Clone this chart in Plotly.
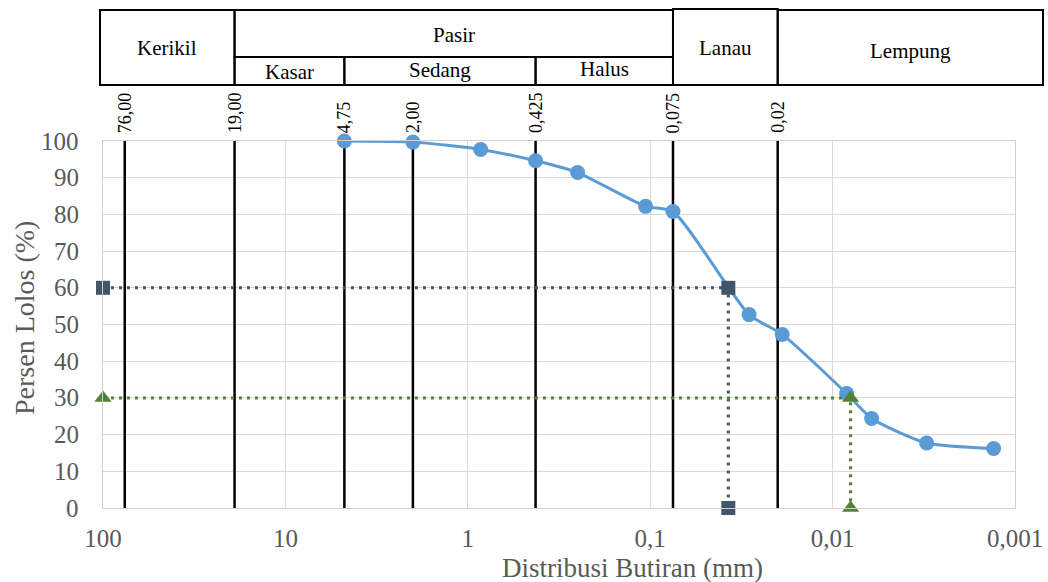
import math
import plotly.graph_objects as go

# Grain size analysis (sieve + hydrometer)
grain_size_mm = [4.75, 2.0, 0.85, 0.425, 0.25, 0.106, 0.075,
                 0.0287, 0.0189, 0.00838, 0.00611, 0.00305, 0.00131]
percent_passing = [100, 99.7, 97.7, 94.6, 91.4, 82.2, 80.8,
                   52.7, 47.3, 31.2, 24.4, 17.7, 16.2]

# Characteristic diameters
d60_mm = 0.0373
d30_mm = 0.00797
x_left_mm = 100

# Classification boundaries (mm) and their labels
boundary_mm = [76.0, 19.0, 4.75, 2.0, 0.425, 0.075, 0.02]
boundary_text = ["76,00", "19,00", "4,75", "2,00", "0,425", "0,075", "0,02"]

# Axis ticks
x_tickvals = [100, 10, 1, 0.1, 0.01, 0.001]
x_ticktext = ["100", "10", "1", "0,1", "0,01", "0,001"]
y_tickvals = list(range(0, 101, 10))
y_ticktext = [str(v) for v in y_tickvals]

FONT = "Liberation Serif"
GRAY_TXT = "#595959"
GRID = "#D9D9D9"
BLUE = "#5B9BD5"
SLATE = "#44546A"
GREEN = "#548235"
CLEAR = "rgba(0,0,0,0)"
DOTS = "3px,5px"

W, H = 1048, 582
ML, MR, MT, MB = 103, 33, 141, 74
PW, PH = W - ML - MR, H - MT - MB
LOG_MAX, LOG_MIN = 2, -3


def px_x(px):
    return (px - ML) / PW


def px_y(py):
    return (H - MB - py) / PH


def size_to_paper(v):
    return (LOG_MAX - math.log10(v)) / (LOG_MAX - LOG_MIN)


fig = go.Figure()

# Boundary lines
for v in boundary_mm:
    fig.add_trace(go.Scatter(
        x=[v, v], y=[0, 100], mode="lines",
        line=dict(color="black", width=2.5),
        hoverinfo="skip", showlegend=False))

# Grading curve
fig.add_trace(go.Scatter(
    x=grain_size_mm, y=percent_passing, mode="lines+markers",
    line=dict(color=BLUE, width=3, shape="spline", smoothing=0.6),
    marker=dict(color=BLUE, size=15),
    cliponaxis=False, showlegend=False))

# D60 guide
fig.add_trace(go.Scatter(
    x=[x_left_mm, d60_mm, d60_mm], y=[60, 60, 0], mode="lines+markers",
    line=dict(color=SLATE, width=3, dash=DOTS),
    marker=dict(symbol="square", color=SLATE, size=14),
    cliponaxis=False, showlegend=False))

# D30 guide
fig.add_trace(go.Scatter(
    x=[x_left_mm, d30_mm, d30_mm], y=[30, 30, 0], mode="lines+markers",
    line=dict(color=GREEN, width=3, dash=DOTS),
    marker=dict(symbol="triangle-up", color=GREEN, size=15),
    cliponaxis=False, showlegend=False))

annotations = []

# Y tick labels, right-aligned with a gap to the plot edge
for v, t in zip(y_tickvals, y_ticktext):
    annotations.append(dict(
        x=px_x(81), xref="paper", y=v, yref="y", text=t, showarrow=False,
        xanchor="right", yanchor="middle",
        font=dict(family=FONT, size=25, color=GRAY_TXT)))

# Rotated boundary labels above the plot
for v, t in zip(boundary_mm, boundary_text):
    annotations.append(dict(
        x=math.log10(v), xref="x", y=1, yref="paper",
        text=t, textangle=-90, showarrow=False,
        xanchor="center", yanchor="bottom", yshift=6,
        font=dict(family=FONT, size=18, color="black")))

# Classification header table
top, mid, bot = px_y(10), px_y(57), px_y(85)
left_edge, right_edge = px_x(100), px_x(1043)
b19, b475, b0425, b0075, b002 = (size_to_paper(v) for v in (19.0, 4.75, 0.425, 0.075, 0.02))

boxes = [
    (left_edge, b19, bot, top),
    (b19, b0075, mid, top),
    (b19, b475, bot, mid),
    (b475, b0425, bot, mid),
    (b0425, b0075, bot, mid),
    (b0075, b002, bot, px_y(9)),
    (b002, right_edge, bot, top),
]
shapes = []
for x0, x1, y0, y1 in boxes:
    shapes.append(dict(type="rect", xref="paper", yref="paper",
                       x0=x0, x1=x1, y0=y0, y1=y1,
                       line=dict(color="black", width=2),
                       fillcolor=CLEAR))

header_labels = [
    ("Kerikil", (left_edge + b19) / 2, px_y(48)),
    ("Pasir", (b19 + b0075) / 2, px_y(35)),
    ("Kasar", (b19 + b475) / 2, px_y(72)),
    ("Sedang", (b475 + b0425) / 2, px_y(70)),
    ("Halus", (b0425 + b0075) / 2, px_y(69)),
    ("Lanau", (b0075 + b002) / 2, px_y(48)),
    ("Lempung", (b002 + right_edge) / 2, px_y(51)),
]
for t, x, y in header_labels:
    annotations.append(dict(
        x=x, y=y, xref="paper", yref="paper", text=t, showarrow=False,
        xanchor="center", yanchor="middle",
        font=dict(family=FONT, size=21, color="black")))

# Axis titles
annotations.append(dict(
    x=px_x(632), y=px_y(568), xref="paper", yref="paper",
    text="Distribusi Butiran (mm)", showarrow=False,
    xanchor="center", yanchor="middle",
    font=dict(family=FONT, size=27, color=GRAY_TXT)))
annotations.append(dict(
    x=px_x(24), y=px_y(318), xref="paper", yref="paper",
    text="Persen Lolos (%)", showarrow=False, textangle=-90,
    xanchor="center", yanchor="middle",
    font=dict(family=FONT, size=28, color=GRAY_TXT)))

fig.update_layout(
    width=W, height=H,
    margin=dict(l=ML, r=MR, t=MT, b=MB, autoexpand=False),
    paper_bgcolor="white", plot_bgcolor="white",
    font=dict(family=FONT, color=GRAY_TXT),
    shapes=shapes, annotations=annotations,
    xaxis=dict(
        type="log", range=[LOG_MAX, LOG_MIN],
        tickvals=x_tickvals, ticktext=x_ticktext,
        tickfont=dict(family=FONT, size=25, color=GRAY_TXT),
        showgrid=True, gridcolor=GRID, gridwidth=1,
        showline=True, linecolor="#D0D0D0", linewidth=1, mirror=True,
        ticks="outside", ticklen=8, tickcolor=CLEAR,
        zeroline=False, automargin=False),
    yaxis=dict(
        range=[0, 100], tickvals=y_tickvals, showticklabels=False,
        showgrid=True, gridcolor=GRID, gridwidth=1,
        showline=True, linecolor="#D0D0D0", linewidth=1, mirror=True,
        ticks="", zeroline=False, automargin=False),
)

fig.write_html("out.html")
